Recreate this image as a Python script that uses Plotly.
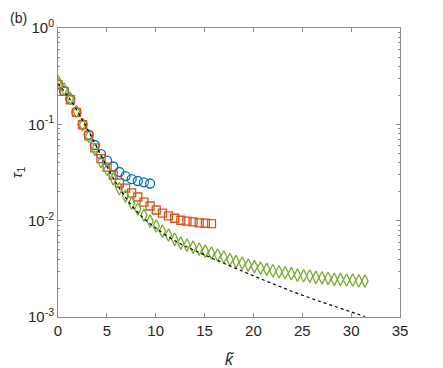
import numpy as np
import plotly.graph_objects as go

# k~ grid step is pi/5
step = np.pi / 5

tau_blue = [0.260, 0.222, 0.183, 0.134, 0.100, 0.078, 0.061, 0.049, 0.042, 0.0365,
            0.032, 0.029, 0.027, 0.0258, 0.025, 0.0243]

tau_red = [0.258, 0.220, 0.180, 0.133, 0.099, 0.076, 0.057, 0.044, 0.036, 0.0298,
           0.0246, 0.0218, 0.0194, 0.0176, 0.0156, 0.0142, 0.0129, 0.0120, 0.0112,
           0.0106, 0.0101, 0.0099, 0.0097, 0.0095, 0.0094, 0.0093]

tau_green = [0.280, 0.232, 0.186, 0.136, 0.099, 0.075, 0.055, 0.041, 0.034, 0.0272,
             0.0215, 0.0180, 0.0152, 0.0132, 0.0114, 0.0099, 0.0088, 0.0078, 0.0071,
             0.0064, 0.00585, 0.00558, 0.00532, 0.00507, 0.00483, 0.00461, 0.00440,
             0.00419, 0.00395, 0.00376, 0.00363, 0.00346, 0.00334, 0.00322, 0.00312,
             0.00302, 0.00295, 0.00288, 0.00282, 0.00272, 0.00268, 0.00266, 0.00258,
             0.00255, 0.00252, 0.00246, 0.00246, 0.00242, 0.00242, 0.00238, 0.00236]

k_theory = [0, 1, 2, 3, 4, 5, 6, 7, 8, 9, 10, 12, 14, 16, 18, 20, 22, 24, 26, 28, 30, 31.4]
tau_theory = [0.265, 0.196, 0.136, 0.0897, 0.0573, 0.0366, 0.0242, 0.0169, 0.0127,
              0.0101, 0.00838, 0.00614, 0.0049, 0.00398, 0.00326, 0.00268, 0.00221,
              0.00184, 0.00155, 0.00132, 0.00113, 0.00101]

x_ticks = [0, 5, 10, 15, 20, 25, 30, 35]
y_ticks = [1e-3, 1e-2, 1e-1, 1]
y_ticktext = ["10<sup>-3</sup>", "10<sup>-2</sup>", "10<sup>-1</sup>", "10<sup>0</sup>"]
y_minor = [m * 10.0 ** e for e in (-3, -2, -1) for m in range(2, 10)]

fig = go.Figure()

fig.add_trace(go.Scatter(
    x=[i * step for i in range(len(tau_blue))], y=tau_blue, mode="markers",
    marker=dict(symbol="circle-open", size=9, color="#0072BD",
                line=dict(width=1.3, color="#0072BD"))))
fig.add_trace(go.Scatter(
    x=[i * step for i in range(len(tau_red))], y=tau_red, mode="markers",
    marker=dict(symbol="square-open", size=8, color="#D95319",
                line=dict(width=1.3, color="#D95319"))))
fig.add_trace(go.Scatter(
    x=[i * step for i in range(len(tau_green))], y=tau_green, mode="markers",
    marker=dict(symbol="diamond-tall-open", size=9, color="#77AC30",
                line=dict(width=1.3, color="#77AC30"))))
fig.add_trace(go.Scatter(
    x=k_theory, y=tau_theory, mode="lines",
    line=dict(color="black", width=1.2, dash="3px,3px", shape="spline")))

axis_style = dict(
    showline=True, linecolor="#8c8c8c", linewidth=1, mirror="ticks",
    ticks="inside", ticklen=4, tickcolor="#8c8c8c", showgrid=False,
    zeroline=False, automargin=False, tickfont=dict(size=15, color="#262626"),
)

# page body has an 8px default margin, so the figure is 8px smaller each way
fig.update_layout(
    width=435, height=360,
    margin=dict(l=50, r=43, t=20, b=51),
    plot_bgcolor="white", paper_bgcolor="white",
    showlegend=False,
    font=dict(family="Liberation Sans, Arial, sans-serif", color="#262626"),
    xaxis=dict(range=[0, 35], tickvals=x_ticks,
               title=dict(text="<i>k̃</i>", font=dict(size=16)),
               **axis_style),
    yaxis=dict(type="log", range=[-3, 0], tickvals=y_ticks, ticktext=y_ticktext,
               minor=dict(tickvals=y_minor, ticks="inside", ticklen=2,
                          tickcolor="#8c8c8c"),
               title=dict(text="<i>τ</i><sub>1</sub>", font=dict(size=15)),
               **axis_style),
    annotations=[dict(text="(b)", x=0, y=1, xref="paper", yref="paper",
                      xshift=-50, yshift=20, xanchor="left", yanchor="top",
                      showarrow=False, font=dict(size=14, color="#262626"))],
)

fig.write_html("out.html")
